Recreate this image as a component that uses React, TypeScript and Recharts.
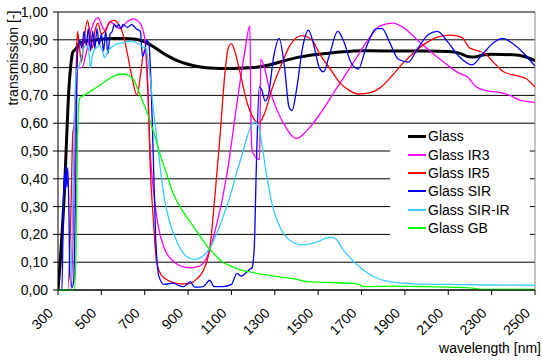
import React from "react";
import {
  LineChart,
  Line,
  XAxis,
  YAxis,
  CartesianGrid,
  Legend,
  ReferenceLine,
} from "recharts";

const FONT = "'Liberation Sans', Arial, sans-serif";

const X_TICKS = [300, 500, 700, 900, 1100, 1300, 1500, 1700, 1900, 2100, 2300, 2500];
const Y_TICKS = [0, 0.1, 0.2, 0.3, 0.4, 0.5, 0.6, 0.7, 0.8, 0.9, 1];

// Glass
const GLASS_WL = [300, 310, 320, 330, 340, 350, 358, 368, 380, 400, 450, 500, 550, 600, 650, 700, 750, 800, 850, 900, 950, 1000, 1100, 1200, 1250, 1300, 1350, 1400, 1450, 1500, 1550, 1600, 1700, 1800, 1900, 2000, 2100, 2150, 2190, 2220, 2260, 2300, 2400, 2450, 2500];
const GLASS_T = [0, 0.1, 0.22, 0.36, 0.55, 0.72, 0.8, 0.855, 0.865, 0.888, 0.897, 0.902, 0.905, 0.905, 0.903, 0.893, 0.87, 0.845, 0.825, 0.812, 0.803, 0.799, 0.797, 0.8, 0.806, 0.815, 0.826, 0.836, 0.843, 0.848, 0.852, 0.856, 0.861, 0.86, 0.86, 0.86, 0.858, 0.852, 0.84, 0.838, 0.845, 0.848, 0.846, 0.84, 0.825];

// Glass IR3
const IR3_WL = [300, 360, 370, 380, 390, 400, 410, 435, 455, 485, 505, 518, 540, 563, 585, 618, 646, 678, 700, 712, 725, 740, 760, 790, 830, 870, 910, 950, 985, 1030, 1080, 1125, 1160, 1185, 1190, 1196, 1215, 1230, 1235, 1280, 1340, 1400, 1450, 1510, 1580, 1660, 1730, 1785, 1845, 1900, 1970, 2030, 2095, 2150, 2190, 2230, 2280, 2340, 2385, 2430, 2500];
const IR3_T = [0, 0, 0.2, 0.6, 0.8, 0.8, 0.8, 0.87, 0.94, 0.98, 0.947, 0.93, 0.965, 0.953, 0.94, 0.965, 0.975, 0.96, 0.906, 0.75, 0.5, 0.36, 0.24, 0.15, 0.105, 0.085, 0.08, 0.085, 0.115, 0.23, 0.42, 0.67, 0.85, 0.95, 0.6, 0.5, 0.475, 0.47, 0.83, 0.71, 0.6, 0.545, 0.575, 0.635, 0.72, 0.815, 0.9, 0.95, 0.96, 0.94, 0.89, 0.85, 0.81, 0.78, 0.765, 0.73, 0.716, 0.71, 0.7, 0.683, 0.675];

// Glass IR5
const IR5_WL = [300, 345, 360, 368, 375, 384, 390, 398, 408, 420, 436, 446, 458, 470, 485, 500, 515, 540, 560, 580, 600, 620, 640, 665, 680, 697, 705, 715, 725, 740, 755, 780, 820, 870, 900, 940, 970, 1000, 1025, 1047, 1070, 1085, 1100, 1115, 1140, 1170, 1200, 1225, 1250, 1290, 1325, 1370, 1425, 1470, 1510, 1560, 1600, 1640, 1685, 1740, 1785, 1840, 1890, 1950, 2000, 2050, 2110, 2160, 2200, 2240, 2270, 2320, 2355, 2420, 2460, 2500];
const IR5_T = [0, 0, 0.3, 0.56, 0.6, 0.8, 0.93, 0.88, 0.82, 0.9, 0.97, 0.93, 0.87, 0.93, 0.96, 0.92, 0.93, 0.965, 0.97, 0.955, 0.92, 0.85, 0.77, 0.7, 0.77, 0.86, 0.86, 0.72, 0.45, 0.25, 0.1, 0.05, 0.03, 0.022, 0.022, 0.04, 0.07, 0.15, 0.35, 0.55, 0.78, 0.87, 0.885, 0.86, 0.78, 0.68, 0.62, 0.6, 0.63, 0.73, 0.8, 0.88, 0.915, 0.9, 0.845, 0.79, 0.745, 0.72, 0.705, 0.71, 0.727, 0.77, 0.815, 0.86, 0.89, 0.91, 0.917, 0.91, 0.87, 0.86, 0.85, 0.81, 0.785, 0.77, 0.76, 0.73];

// Glass SIR
const SIR_WL = [300, 318, 325, 330, 333, 337, 341, 345, 350, 355, 365, 372, 380, 390, 400, 410, 420, 430, 440, 450, 460, 470, 480, 490, 500, 510, 520, 530, 540, 550, 560, 570, 580, 590, 600, 620, 640, 660, 680, 690, 700, 710, 720, 735, 750, 765, 790, 830, 860, 880, 910, 930, 970, 1000, 1020, 1060, 1100, 1125, 1145, 1165, 1185, 1195, 1205, 1215, 1228, 1240, 1255, 1270, 1295, 1320, 1345, 1365, 1380, 1400, 1430, 1455, 1480, 1505, 1525, 1550, 1590, 1620, 1650, 1685, 1720, 1770, 1795, 1830, 1870, 1915, 1960, 2010, 2050, 2100, 2150, 2210, 2260, 2310, 2350, 2400, 2450, 2500];
const SIR_T = [0, 0, 0.3, 0.42, 0.36, 0.45, 0.37, 0.44, 0.3, 0.05, 0.01, 0.03, 0.3, 0.85, 0.9, 0.87, 0.93, 0.88, 0.94, 0.86, 0.93, 0.87, 0.94, 0.88, 0.92, 0.86, 0.93, 0.85, 0.92, 0.93, 0.955, 0.945, 0.955, 0.94, 0.955, 0.945, 0.955, 0.94, 0.93, 0.84, 0.86, 0.9, 0.88, 0.6, 0.2, 0.05, 0.02, 0.025, 0.015, 0.012, 0.03, 0.01, 0.012, 0.035, 0.012, 0.012, 0.02, 0.06, 0.05, 0.06, 0.075, 0.08, 0.15, 0.45, 0.73, 0.72, 0.68, 0.7, 0.84, 0.905, 0.8, 0.66, 0.645, 0.72, 0.88, 0.935, 0.88, 0.8, 0.785, 0.84, 0.93, 0.89, 0.82, 0.795, 0.87, 0.94, 0.94, 0.89, 0.83, 0.82, 0.87, 0.92, 0.93, 0.89, 0.84, 0.81, 0.85, 0.89, 0.905, 0.885, 0.85, 0.805];

// Glass SIR-IR
const SIRIR_WL = [300, 355, 365, 375, 385, 395, 410, 425, 440, 450, 460, 475, 490, 505, 515, 530, 550, 575, 600, 640, 670, 690, 705, 720, 740, 755, 770, 790, 815, 845, 875, 905, 930, 965, 1000, 1030, 1060, 1095, 1125, 1150, 1170, 1190, 1210, 1228, 1245, 1265, 1290, 1325, 1370, 1430, 1495, 1555, 1580, 1615, 1670, 1740, 1830, 1950, 2100, 2300, 2500];
const SIRIR_T = [0, 0, 0.2, 0.6, 0.79, 0.8, 0.845, 0.88, 0.87, 0.8, 0.85, 0.87, 0.88, 0.86, 0.835, 0.86, 0.875, 0.885, 0.89, 0.895, 0.885, 0.875, 0.87, 0.8, 0.65, 0.55, 0.45, 0.33, 0.245, 0.18, 0.135, 0.115, 0.11, 0.12, 0.15, 0.2, 0.26, 0.34, 0.425, 0.49, 0.545, 0.59, 0.605, 0.58, 0.5, 0.4, 0.3, 0.225, 0.178, 0.162, 0.173, 0.19, 0.185, 0.145, 0.097, 0.055, 0.03, 0.022, 0.02, 0.018, 0.017];

// Glass GB
const GB_WL = [300, 375, 382, 390, 400, 420, 460, 500, 540, 600, 630, 650, 670, 690, 715, 740, 770, 800, 830, 870, 910, 950, 985, 1020, 1060, 1100, 1140, 1185, 1250, 1325, 1400, 1450, 1550, 1660, 1690, 1710, 1850, 2000, 2200, 2260, 2500];
const GB_T = [0, 0, 0.1, 0.55, 0.69, 0.7, 0.72, 0.74, 0.762, 0.777, 0.77, 0.755, 0.72, 0.68, 0.63, 0.57, 0.49, 0.42, 0.35, 0.29, 0.245, 0.2, 0.16, 0.13, 0.1, 0.085, 0.072, 0.065, 0.055, 0.047, 0.038, 0.03, 0.027, 0.024, 0.02, 0.012, 0.014, 0.012, 0.008, 0.002, 0.002];

const toPoints = (wl: number[], t: number[]) => wl.map((x, i) => ({ x, y: t[i] }));

const SERIES = [
  { name: "Glass", color: "#000000", width: 3, wl: GLASS_WL, t: GLASS_T },
  { name: "Glass IR3", color: "#ff00ff", width: 1.3, wl: IR3_WL, t: IR3_T },
  { name: "Glass IR5", color: "#ff0000", width: 1.3, wl: IR5_WL, t: IR5_T },
  { name: "Glass SIR", color: "#0000ff", width: 1.3, wl: SIR_WL, t: SIR_T },
  { name: "Glass SIR-IR", color: "#33ccff", width: 1.3, wl: SIRIR_WL, t: SIRIR_T },
  { name: "Glass GB", color: "#00ff00", width: 1.3, wl: GB_WL, t: GB_T },
];

const XTick = (props: any) => {
  const { x, y, payload } = props;
  const ax = x - 4;
  const ay = y + 17;
  return (
    <text
      x={ax}
      y={ay}
      transform={`rotate(-45 ${ax} ${ay})`}
      textAnchor="end"
      fontSize={14}
      fontFamily={FONT}
      fill="#000"
    >
      {payload.value}
    </text>
  );
};

const LegendBox = () => (
  <div style={{ background: "#fff", width: 140, fontFamily: FONT, fontSize: 14, color: "#000" }}>
    {SERIES.map((s) => (
      <div key={s.name} style={{ display: "flex", alignItems: "center", height: 18.4 }}>
        <span
          style={{
            display: "inline-block",
            width: 18,
            height: s.width > 2 ? 3 : 2,
            background: s.color,
            marginLeft: 18,
            marginRight: 2,
          }}
        />
        <span>{s.name}</span>
      </div>
    ))}
  </div>
);

export default function App() {
  return (
    <div style={{ position: "absolute", left: 0, top: 0, width: 542, height: 363, background: "#fff" }}>
      <LineChart width={542} height={363} margin={{ top: 12, right: 7, bottom: 0, left: 0 }}>
        <CartesianGrid vertical={false} stroke="#000" horizontalValues={Y_TICKS} />
        <XAxis
          dataKey="x"
          type="number"
          domain={[300, 2500]}
          ticks={X_TICKS}
          allowDataOverflow
          height={73}
          tickSize={5}
          stroke="#000"
          tick={<XTick />}
          interval={0}
        />
        <YAxis
          type="number"
          domain={[0, 1]}
          ticks={Y_TICKS}
          width={58}
          tickSize={5}
          tickMargin={5}
          stroke="#000"
          interval={0}
          tickFormatter={(v: number) => v.toFixed(2).replace(".", ",")}
          tick={{ fontSize: 14, fontFamily: FONT, fill: "#000" }}
        />
        <ReferenceLine x={2500} stroke="#888" />
        <Legend
          layout="vertical"
          align="center"
          verticalAlign="middle"
          content={<LegendBox />}
          wrapperStyle={{ position: "absolute", left: 390, top: 127, width: 140 }}
        />
        {SERIES.map((s) => (
          <Line
            key={s.name}
            name={s.name}
            data={toPoints(s.wl, s.t)}
            dataKey="y"
            type="monotone"
            stroke={s.color}
            strokeWidth={s.width}
            dot={false}
            activeDot={false}
            isAnimationActive={false}
          />
        ))}
      </LineChart>
      <div
        style={{
          position: "absolute",
          left: 13,
          top: 58,
          transform: "translate(-50%, -50%) rotate(-90deg)",
          whiteSpace: "nowrap",
          fontFamily: FONT,
          fontSize: 14,
          color: "#000",
        }}
      >
        transmission [-]
      </div>
      <div
        style={{
          position: "absolute",
          right: 1,
          top: 340,
          whiteSpace: "nowrap",
          fontFamily: FONT,
          fontSize: 14,
          color: "#000",
        }}
      >
        wavelength [nm]
      </div>
    </div>
  );
}
